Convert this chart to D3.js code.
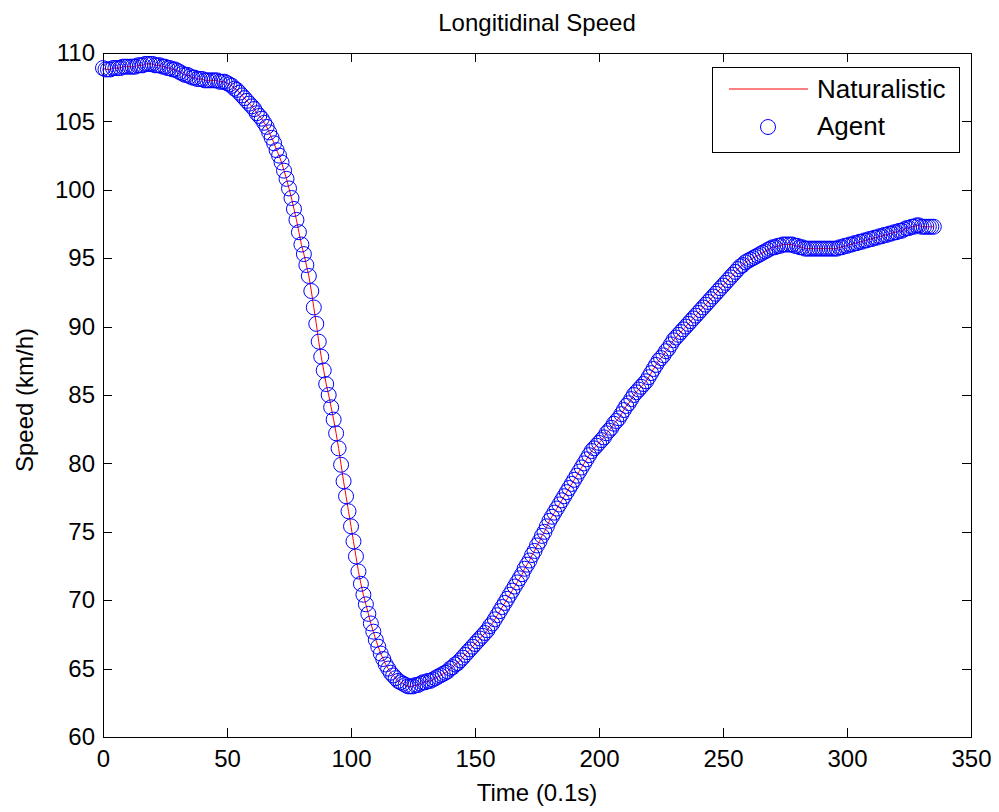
<!DOCTYPE html>
<html>
<head>
<meta charset="utf-8">
<script src="https://cdn.jsdelivr.net/npm/d3@7"></script>
<style>
  body { margin: 0; background: #fff; }
  svg { display: block; font-family: "Liberation Sans", Arial, sans-serif; }
</style>
</head>
<body>
<svg id="chart" width="999" height="812"></svg>
<script>
// Speed readings (km/h), one per 0.1 s step
const naturalistic = [
  108.9,108.8,108.8,108.8,108.9,108.9,108.9,108.9,109.0,109.0,
  109.0,109.0,109.0,109.0,109.1,109.1,109.1,109.2,109.2,109.2,
  109.2,109.1,109.1,109.1,109.0,109.0,108.9,108.9,108.8,108.8,
  108.7,108.6,108.5,108.4,108.4,108.3,108.2,108.2,108.1,108.1,
  108.1,108.0,108.0,108.0,108.0,108.0,108.0,107.9,107.9,107.9,
  107.8,107.7,107.6,107.4,107.3,107.1,106.9,106.7,106.5,106.3,
  106.1,105.9,105.6,105.4,105.2,104.9,104.6,104.2,103.8,103.4,
  102.9,102.5,102.0,101.4,100.8,100.1,99.4,98.6,97.8,96.9,
  96.0,95.3,94.5,93.7,92.6,91.4,90.2,88.9,87.8,86.8,
  85.8,85.0,84.1,83.2,82.2,81.1,79.9,78.7,77.6,76.5,
  75.4,74.3,73.2,72.1,71.2,70.4,69.7,69.0,68.3,67.7,
  67.1,66.6,66.1,65.7,65.3,65.0,64.7,64.5,64.3,64.1,
  64.0,63.9,63.8,63.7,63.7,63.7,63.8,63.8,63.9,64.0,
  64.0,64.1,64.1,64.2,64.3,64.4,64.5,64.6,64.7,64.8,
  65.0,65.1,65.3,65.4,65.6,65.8,66.0,66.2,66.4,66.6,
  66.8,67.0,67.2,67.4,67.6,67.8,68.1,68.3,68.6,68.9,
  69.2,69.5,69.8,70.1,70.4,70.7,71.0,71.3,71.6,71.9,
  72.3,72.6,72.9,73.3,73.6,74.0,74.3,74.7,75.0,75.4,
  75.8,76.1,76.4,76.7,77.0,77.3,77.6,77.9,78.2,78.5,
  78.8,79.1,79.4,79.7,80.0,80.3,80.6,80.9,81.1,81.3,
  81.5,81.7,81.9,82.2,82.4,82.6,82.9,83.1,83.3,83.6,
  83.9,84.2,84.4,84.7,85.0,85.2,85.4,85.6,85.8,86.0,
  86.3,86.6,86.9,87.2,87.5,87.7,87.9,88.2,88.4,88.7,
  89.0,89.2,89.4,89.6,89.8,90.0,90.2,90.4,90.6,90.8,
  91.0,91.2,91.4,91.6,91.8,92.0,92.2,92.4,92.6,92.8,
  93.0,93.2,93.4,93.6,93.8,94.0,94.2,94.4,94.5,94.7,
  94.8,94.9,95.0,95.1,95.2,95.3,95.4,95.5,95.6,95.7,
  95.8,95.8,95.9,95.9,96.0,96.0,96.0,96.0,96.0,95.9,
  95.9,95.8,95.8,95.7,95.7,95.7,95.7,95.7,95.7,95.7,
  95.7,95.7,95.7,95.7,95.7,95.7,95.7,95.8,95.8,95.9,
  95.9,96.0,96.0,96.1,96.1,96.2,96.2,96.3,96.3,96.4,
  96.4,96.5,96.5,96.6,96.6,96.7,96.7,96.8,96.8,96.9,
  96.9,97.0,97.0,97.1,97.2,97.2,97.3,97.3,97.4,97.4,
  97.3,97.3,97.3,97.3,97.3,97.3
];
// the agent trace sits on top of the naturalistic one
const agent = naturalistic.slice();

const xTicks = [0, 50, 100, 150, 200, 250, 300, 350];
const yTicks = [60, 65, 70, 75, 80, 85, 90, 95, 100, 105, 110];
const seriesNames = ['Naturalistic', 'Agent'];

const svg = d3.select('#chart');
const margin = { top: 53, right: 28, bottom: 75, left: 103 };
const width = 999 - margin.left - margin.right;
const height = 812 - margin.top - margin.bottom;
const font = '24px';

const g = svg.append('g').attr('transform', `translate(${margin.left},${margin.top})`);

const x = d3.scaleLinear().domain([0, 350]).range([0, width]);
const y = d3.scaleLinear().domain([60, 110]).range([height, 0]);

// Axes, ticks pointing inward like MATLAB
function styleAxis(sel) {
    sel.select('.domain').remove();
    sel.selectAll('line').attr('stroke', '#000').attr('shape-rendering', 'crispEdges');
    sel.selectAll('text').attr('fill', '#000').style('font-size', font)
        .style('font-family', '"Liberation Sans", Arial, sans-serif');
}

g.append('g')
    .attr('transform', `translate(0,${height})`)
    .call(d3.axisBottom(x).tickValues(xTicks).tickSizeInner(-9).tickSizeOuter(0).tickPadding(13))
    .call(styleAxis);
g.append('g')
    .call(d3.axisTop(x).tickValues(xTicks).tickSizeInner(-9).tickSizeOuter(0).tickFormat(''))
    .call(styleAxis);
g.append('g')
    .call(d3.axisLeft(y).tickValues(yTicks).tickSizeInner(-9).tickSizeOuter(0).tickPadding(8))
    .call(styleAxis);
g.append('g')
    .attr('transform', `translate(${width},0)`)
    .call(d3.axisRight(y).tickValues(yTicks).tickSizeInner(-9).tickSizeOuter(0).tickFormat(''))
    .call(styleAxis);

// Box
g.append('rect')
    .attr('x', 0).attr('y', 0)
    .attr('width', width).attr('height', height)
    .attr('fill', 'none')
    .attr('stroke', '#000')
    .attr('shape-rendering', 'crispEdges');

// Naturalistic line
const line = d3.line()
    .x((d, i) => x(i))
    .y(d => y(d));

g.append('path')
    .datum(naturalistic)
    .attr('fill', 'none')
    .attr('stroke', '#ff0000')
    .attr('stroke-width', 1)
    .attr('d', line);

// Agent markers
g.append('g')
    .selectAll('circle')
    .data(agent)
    .join('circle')
    .attr('cx', (d, i) => x(i))
    .attr('cy', d => y(d))
    .attr('r', 7.5)
    .attr('fill', 'none')
    .attr('stroke', '#0000ff')
    .attr('stroke-width', 1);

// Title and axis labels
svg.append('text')
    .attr('x', margin.left + width / 2)
    .attr('y', 31)
    .attr('text-anchor', 'middle')
    .style('font-size', font)
    .text('Longitidinal Speed');

svg.append('text')
    .attr('x', margin.left + width / 2)
    .attr('y', 801)
    .attr('text-anchor', 'middle')
    .style('font-size', font)
    .text('Time (0.1s)');

svg.append('text')
    .attr('transform', 'rotate(-90)')
    .attr('x', -400)
    .attr('y', 33)
    .attr('text-anchor', 'middle')
    .style('font-size', font)
    .text('Speed (km/h)');

// Legend
const legend = svg.append('g').attr('transform', 'translate(712,67)');
legend.append('rect')
    .attr('width', 247).attr('height', 85)
    .attr('fill', '#fff')
    .attr('stroke', '#000')
    .attr('shape-rendering', 'crispEdges');
legend.append('line')
    .attr('x1', 17).attr('x2', 96)
    .attr('y1', 22).attr('y2', 22)
    .attr('stroke', '#ff0000');
legend.append('circle')
    .attr('cx', 56).attr('cy', 60)
    .attr('r', 7.5)
    .attr('fill', 'none')
    .attr('stroke', '#0000ff');
legend.selectAll('text.lab')
    .data(seriesNames)
    .join('text')
    .attr('class', 'lab')
    .attr('x', 105)
    .attr('y', (d, i) => 31 + i * 37)
    .style('font-size', '26px')
    .text(d => d);
</script>
</body>
</html>
